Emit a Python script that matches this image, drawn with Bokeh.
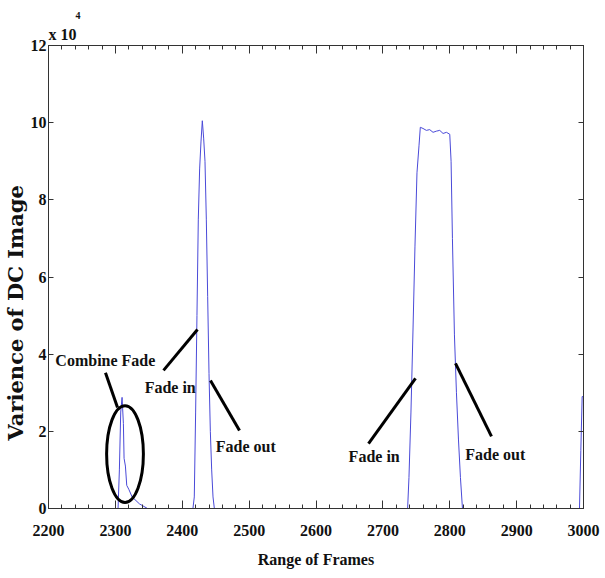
from bokeh.plotting import figure
from bokeh.models import (FixedTicker, LinearAxis, Range1d, Title)
from bokeh.core.properties import value
from bokeh.embed import file_html
from bokeh.resources import INLINE

# ---- data (variance in units of 10^4) ----
frames = [2200, 2304, 2306, 2308, 2310, 2312, 2313, 2315, 2317, 2320, 2325, 2336, 2348,
          2416, 2418, 2420, 2422, 2424, 2426, 2428, 2430, 2432, 2434, 2436, 2438, 2440,
          2442, 2444, 2446, 2448,
          2737, 2739, 2742, 2745, 2748, 2751, 2754, 2756, 2760, 2765, 2770, 2775, 2780,
          2785, 2790, 2795, 2800, 2802, 2804, 2807, 2810, 2813, 2816, 2819,
          2994, 2996, 2998, 3000]
variance = [0, 0, 1.0, 2.5, 2.88, 2.2, 1.3, 1.1, 0.6, 0.5, 0.3, 0.12, 0,
            0, 0.3, 2.5, 5.0, 7.5, 8.8, 9.5, 10.05, 9.6, 9.0, 7.5, 5.5, 3.5,
            2.0, 1.0, 0.3, 0,
            0, 0.8, 2.5, 4.6, 6.8, 8.7, 9.4, 9.88, 9.85, 9.8, 9.82, 9.75, 9.78,
            9.8, 9.72, 9.75, 9.7, 9.0, 7.0, 4.5, 3.0, 1.8, 0.8, 0,
            0, 1.5, 2.9, 2.9]

x_ticks = [2200, 2300, 2400, 2500, 2600, 2700, 2800, 2900, 3000]
x_minor = list(range(2200, 3001, 20))
y_ticks = [0, 2, 4, 6, 8, 10, 12]

# annotations
ann_text = ["Combine Fade", "Fade in", "Fade out", "Fade in", "Fade out"]
ann_x = [2285, 2382, 2495, 2687, 2868]
ann_y = [3.84, 3.14, 1.61, 1.35, 1.40]
ptr_x0 = [2285.2, 2372.0, 2442.2, 2678.5, 2808.6]
ptr_y0 = [3.52, 3.58, 3.32, 1.68, 3.76]
ptr_x1 = [2303.2, 2422.8, 2485.6, 2748.8, 2862.4]
ptr_y1 = [2.62, 4.64, 2.02, 3.37, 1.87]
ell_x = [2314.4]
ell_y = [1.41]
ell_w = 55
ell_h = 2.51

SERIF = value("Liberation Serif")

p = figure(width=605, height=578, output_backend="svg", toolbar_location=None,
           x_range=Range1d(2200, 3000), y_range=Range1d(0, 12),
           min_border_left=48, min_border_right=22, min_border_top=45,
           min_border_bottom=70, x_axis_label="Range of Frames")
p.background_fill_color = "white"
p.border_fill_color = "white"
p.grid.visible = False
p.outline_line_color = "#333333"

p.line(frames, variance, line_color="#4a4ad8", line_width=1)

p.segment(ptr_x0, ptr_y0, ptr_x1, ptr_y1, line_color="black", line_width=3)
p.ellipse(x=ell_x, y=ell_y, width=ell_w, height=ell_h, fill_color=None,
          line_color="black", line_width=3)
p.text(ann_x, ann_y, text=ann_text, text_font=SERIF, text_font_style="bold",
       text_font_size="16px", text_align="center", text_baseline="middle",
       text_color="#111111")

xa = p.xaxis[0]
xa.ticker = FixedTicker(ticks=x_ticks, minor_ticks=x_minor)
ya = p.yaxis[0]
ya.ticker = FixedTicker(ticks=y_ticks, minor_ticks=[])

for ax in (xa, ya):
    ax.axis_line_color = "#333333"
    ax.major_tick_line_color = "#333333"
    ax.minor_tick_line_color = "#333333"
    ax.major_label_text_font = "Liberation Serif"
    ax.major_label_text_font_style = "bold"
    ax.major_label_text_font_size = "16px"
    ax.major_label_text_color = "#111111"
    ax.major_tick_out = 0
    ax.minor_tick_out = 0

xa.major_tick_in = 8
xa.minor_tick_in = 4
xa.major_label_standoff = 16
xa.axis_label_text_font = "Liberation Serif"
xa.axis_label_text_font_style = "bold"
xa.axis_label_text_font_size = "16px"
xa.axis_label_text_color = "#111111"
xa.axis_label_standoff = 12
ya.major_tick_in = 5
ya.minor_tick_in = 0
ya.major_label_standoff = 2

# top and right box axes with inward ticks, no labels
top = LinearAxis(ticker=FixedTicker(ticks=x_ticks, minor_ticks=x_minor))
top.major_label_overrides = {t: "" for t in x_ticks}
top.major_label_text_font_size = "1px"
top.major_tick_in = 8
top.major_tick_out = 0
top.minor_tick_in = 4
top.minor_tick_out = 0
top.axis_line_color = "#333333"
top.major_tick_line_color = "#333333"
top.minor_tick_line_color = "#333333"
top.major_label_standoff = 0
p.add_layout(top, "above")

right = LinearAxis(ticker=FixedTicker(ticks=y_ticks, minor_ticks=[]))
right.major_label_overrides = {t: "" for t in y_ticks}
right.major_label_text_font_size = "1px"
right.major_tick_in = 5
right.major_tick_out = 0
right.minor_tick_in = 0
right.minor_tick_out = 0
right.axis_line_color = "#333333"
right.major_tick_line_color = "#333333"
right.major_label_standoff = 0
p.add_layout(right, "right")

ytitle = Title(text="Varience of DC Image", align="left", offset=68,
               text_font="DejaVu Serif", text_font_style="bold",
               text_font_size="21px", text_color="#111111", standoff=0)
p.add_layout(ytitle, "left")

# "x 10^4" multiplier, stacked above the frame
mult = Title(text="x 10", align="left", offset=0,
             text_font="Liberation Serif", text_font_style="bold",
             text_font_size="16px", text_color="#111111", standoff=5)
p.add_layout(mult, "above")
expo = Title(text="4", align="left", offset=27,
             text_font="Liberation Serif", text_font_style="bold",
             text_font_size="10px", text_color="#111111", standoff=6)
p.add_layout(expo, "above")

open("out.html", "w").write(file_html(p, INLINE))
